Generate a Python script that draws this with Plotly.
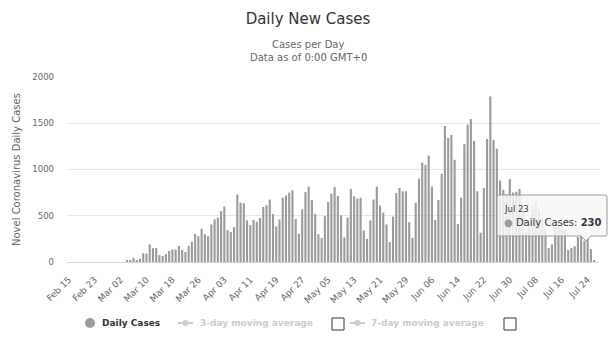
import pandas as pd
import plotly.graph_objects as go

# ---- data ----
start_date = "2020-02-15"
daily_cases = [
    0, 0, 0, 0, 0, 0, 0, 0, 0, 0, 0, 0, 0, 0, 0, 0, 0, 0,
    20, 20, 45, 20, 35, 95, 90, 190, 150, 150, 75, 65, 85, 120, 135,
    135, 175, 130, 110, 175, 220, 305, 280, 360, 300, 280, 405, 460, 480, 550,
    600, 345, 325, 375,
    730, 640, 635, 450, 400, 455, 435, 475, 595, 615,
    675, 520, 385, 460, 695, 720, 750, 775, 465, 305,
    570, 755, 815, 670, 520, 300, 260, 495, 650, 740,
    810, 715, 505, 265, 480, 790, 710, 685, 695, 340,
    250, 450, 675, 815, 610, 535, 405,
    215, 490, 745, 800, 765, 765, 430, 260, 640, 900,
    1075, 1050, 1150, 815, 455, 670, 955, 1470, 1340, 1375,
    1105, 410, 695, 1275, 1485, 1545, 1310, 765, 315, 800,
    1330, 1790, 1320, 1225, 880, 780, 730, 895, 750, 760,
    790,
    560, 330, 420, 600, 650, 560, 480, 330,
    150, 190, 420, 380, 400, 350, 130,
    150, 170, 270, 290, 230, 250, 140, 20,
]
dates = pd.date_range(start_date, periods=len(daily_cases), freq="D")
y_ticks = [0, 500, 1000, 1500, 2000]
tooltip_date = "Jul 23"
tooltip_value = 230
legend_labels = ["Daily Cases", "3-day moving average", "7-day moving average"]

# ---- geometry helpers (pixel -> paper) ----
L, R, T, B = 67, 599, 77, 262
def xp(px):
    return (px - L) / (R - L)
def yp(py):
    return (B - py) / (B - T)

FONT = "DejaVu Sans"
fig = go.Figure()
fig.add_trace(go.Bar(x=dates, y=daily_cases, marker=dict(color="#9a9a9a", line=dict(width=0)),
                     name=legend_labels[0], hoverinfo="skip"))

fig.update_layout(
    width=616, height=352,
    margin=dict(l=L, r=616 - R, t=T, b=352 - B),
    plot_bgcolor="white", paper_bgcolor="white",
    showlegend=False, bargap=0.35,
    font=dict(family=FONT, color="#666666"),
    title=dict(text="Daily New Cases", x=0.5, xref="container", xanchor="center",
               y=1 - 19 / 352, yref="container", yanchor="middle",
               font=dict(family=FONT, size=15, color="#333333")),
)
fig.update_xaxes(
    type="date",
    range=["2020-02-14 12:00", "2020-07-27 12:00"],
    tick0=start_date, dtick=8 * 86400000, tickformat="%b %d",
    tickangle=-45, tickfont=dict(size=9, color="#666666"),
    showgrid=False, showline=True, linecolor="#ccd6eb", linewidth=1,
    ticks="", ticklabelstandoff=8, zeroline=False,
)
fig.update_yaxes(
    range=[0, 2000], tickvals=y_ticks, tickfont=dict(size=8.5, color="#666666"),
    gridcolor="#e6e6e6", gridwidth=1, zeroline=False, showline=False,
    ticks="", ticklabelstandoff=12,
)

def note(text, px, py, size, color, xanchor="center", angle=0):
    return dict(text=text, x=xp(px), y=yp(py), xref="paper", yref="paper",
                xanchor=xanchor, yanchor="middle", showarrow=False, textangle=angle,
                font=dict(family=FONT, size=size, color=color))

ann = []
ann.append(note("Cases per Day", 308, 44, 10, "#666666"))
ann.append(note("Data as of 0:00 GMT+0", 308, 58, 10, "#666666"))
ann.append(note("Novel Coronavirus Daily Cases", 16, 170, 10, "#666666", angle=-90))

shapes = []
# tooltip
tt_path = (f"M {xp(499)},{yp(195)} L {xp(605)},{yp(195)} Q {xp(607)},{yp(195)} {xp(607)},{yp(197)} "
           f"L {xp(607)},{yp(234)} Q {xp(607)},{yp(236)} {xp(605)},{yp(236)} "
           f"L {xp(591)},{yp(236)} L {xp(586)},{yp(241)} L {xp(581)},{yp(236)} "
           f"L {xp(499)},{yp(236)} Q {xp(497)},{yp(236)} {xp(497)},{yp(234)} "
           f"L {xp(497)},{yp(197)} Q {xp(497)},{yp(195)} {xp(499)},{yp(195)} Z")
shapes.append(dict(type="path", path=tt_path, xref="paper", yref="paper",
                   fillcolor="rgba(247,247,247,0.85)", line=dict(color="#9a9a9a", width=1), layer="above"))
ann.append(note(tooltip_date, 502, 209, 8.5, "#333333", xanchor="left"))
ann.append(note(f"<span style='color:#9a9a9a'>●</span> Daily Cases: <b>{tooltip_value}</b>",
                502, 222, 10, "#333333", xanchor="left"))

# legend
ly = 323
shapes.append(dict(type="circle", xref="paper", yref="paper", x0=xp(85), x1=xp(95), y0=yp(ly + 5), y1=yp(ly - 5),
                   fillcolor="#9a9a9a", line=dict(width=0)))
ann.append(note(f"<b>{legend_labels[0]}</b>", 100, ly, 9, "#333333", xanchor="left"))
for sx, tx, cx, lab in [(178, 198, 332, legend_labels[1]), (350, 369, 504, legend_labels[2])]:
    shapes.append(dict(type="line", xref="paper", yref="paper", x0=xp(sx), x1=xp(sx + 15), y0=yp(ly), y1=yp(ly),
                       line=dict(color="#cccccc", width=2)))
    shapes.append(dict(type="circle", xref="paper", yref="paper", x0=xp(sx + 4.5), x1=xp(sx + 10.5),
                       y0=yp(ly + 3), y1=yp(ly - 3), fillcolor="#cccccc", line=dict(width=0)))
    ann.append(note(f"<b>{lab}</b>", tx, ly, 9, "#cccccc", xanchor="left"))
    shapes.append(dict(type="rect", xref="paper", yref="paper", x0=xp(cx), x1=xp(cx + 12), y0=yp(ly + 7), y1=yp(ly - 5),
                       fillcolor="white", line=dict(color="#333333", width=1)))

fig.update_layout(annotations=ann, shapes=shapes)
fig.write_html("out.html")
